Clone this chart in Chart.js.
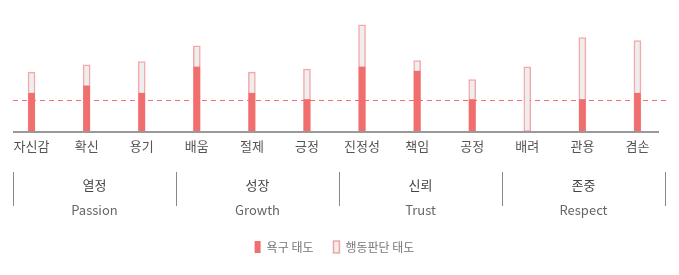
<!DOCTYPE html>
<html lang="ko">
<head>
<meta charset="utf-8">
<title>욕구 태도 / 행동판단 태도</title>
<script src="https://cdn.jsdelivr.net/npm/chart.js@4.4.1/dist/chart.umd.min.js"></script>
<style>
  html, body { margin: 0; padding: 0; background: #fff; }
  #wrap { position: relative; width: 679px; height: 275px; }
</style>
</head>
<body>
<div id="wrap"><canvas id="chart"></canvas></div>
<script>
// virtues along the x axis
const categories = ['자신감', '확신', '용기', '배움', '절제', '긍정', '진정성', '책임', '공정', '배려', '관용', '겸손'];
// 욕구 태도 (solid red) and 행동판단 태도 (outlined, taller)
const desireValues = [3.6, 4.3, 3.6, 6.1, 3.6, 3.0, 6.1, 5.7, 3.0, 0, 3.0, 3.6];
const judgementValues = [5.6, 6.3, 6.6, 8.1, 5.6, 5.9, 10.1, 6.7, 4.9, 6.1, 8.9, 8.6];
// dashed reference line
const thresholdValue = 3.0;
// group captions under the axis, three virtues each
const groupNames = ['열정', '성장', '신뢰', '존중'];
const groupNamesEn = ['Passion', 'Growth', 'Trust', 'Respect'];

const FONT = "'Noto Sans CJK KR', 'Noto Sans', sans-serif";
const RED = 'rgb(240, 110, 110)';
const PINK = 'rgba(240, 110, 110, 0.6)';

// dashed line behind the bars
const thresholdPlugin = {
    id: 'thresholdLine',
    beforeDatasetsDraw(chart) {
        const ctx = chart.ctx;
        const area = chart.chartArea;
        const y = chart.scales.y.getPixelForValue(thresholdValue);
        ctx.save();
        ctx.setLineDash([5, 4]);
        ctx.strokeStyle = RED;
        ctx.lineWidth = 1;
        ctx.beginPath();
        ctx.moveTo(area.left + 9, Math.round(y) + 0.5);
        ctx.lineTo(area.right + 1, Math.round(y) + 0.5);
        ctx.stroke();
        ctx.restore();
    }
};

// baseline, group separators and group captions
const groupsPlugin = {
    id: 'groupLabels',
    afterDatasetsDraw(chart) {
        const ctx = chart.ctx;
        const area = chart.chartArea;
        ctx.save();
        ctx.strokeStyle = '#999';
        ctx.lineWidth = 2;
        ctx.beginPath();
        ctx.moveTo(area.left + 9, area.bottom + 1);
        ctx.lineTo(area.right - 6, area.bottom + 1);
        ctx.stroke();
        ctx.restore();
    },
    afterDraw(chart) {
        const ctx = chart.ctx;
        const area = chart.chartArea;
        const x0 = area.left + 9;
        const step = (area.right - x0) / groupNames.length;
        ctx.save();
        ctx.strokeStyle = '#888';
        ctx.lineWidth = 1;
        for (let i = 0; i <= groupNames.length; i++) {
            const x = Math.round(x0 + step * i) + 0.5;
            ctx.beginPath();
            ctx.moveTo(x, area.bottom + 41);
            ctx.lineTo(x, area.bottom + 75);
            ctx.stroke();
        }
        ctx.textAlign = 'center';
        ctx.textBaseline = 'middle';
        groupNames.forEach(function (name, i) {
            const cx = x0 + step * (i + 0.5);
            ctx.fillStyle = '#444';
            ctx.font = '13px ' + FONT;
            ctx.fillText(name, cx, area.bottom + 54);
            ctx.fillStyle = '#666';
            ctx.fillText(groupNamesEn[i], cx, area.bottom + 79);
        });
        ctx.restore();
    }
};

new Chart(document.getElementById('chart'), {
    type: 'bar',
    data: {
        labels: categories,
        datasets: [
            {
                label: '욕구 태도',
                data: desireValues,
                backgroundColor: RED,
                borderColor: RED,
                borderWidth: 0,
                barThickness: 6,
                grouped: false
            },
            {
                label: '행동판단 태도',
                data: judgementValues,
                backgroundColor: '#eeeeee',
                borderColor: PINK,
                borderWidth: 1.5,
                barThickness: 7,
                grouped: false
            }
        ]
    },
    options: {
        responsive: true,
        maintainAspectRatio: false,
        animation: false,
        layout: {
            padding: { top: 5, left: 4, right: 14, bottom: 14 }
        },
        plugins: {
            legend: {
                position: 'bottom',
                maxHeight: 40,
                labels: {
                    boxWidth: 6,
                    boxHeight: 12,
                    padding: 20,
                    color: '#777',
                    font: { size: 12, family: FONT }
                }
            },
            tooltip: { enabled: false }
        },
        scales: {
            x: {
                grid: { display: false, drawTicks: false },
                border: { display: false },
                ticks: {
                    color: '#555',
                    padding: 7,
                    maxRotation: 0,
                    autoSkip: false,
                    font: { size: 13, family: FONT }
                },
                afterFit(scale) {
                    scale.height = 90;
                }
            },
            y: {
                display: false,
                min: 0,
                max: 12
            }
        }
    },
    plugins: [thresholdPlugin, groupsPlugin]
});
</script>
</body>
</html>
